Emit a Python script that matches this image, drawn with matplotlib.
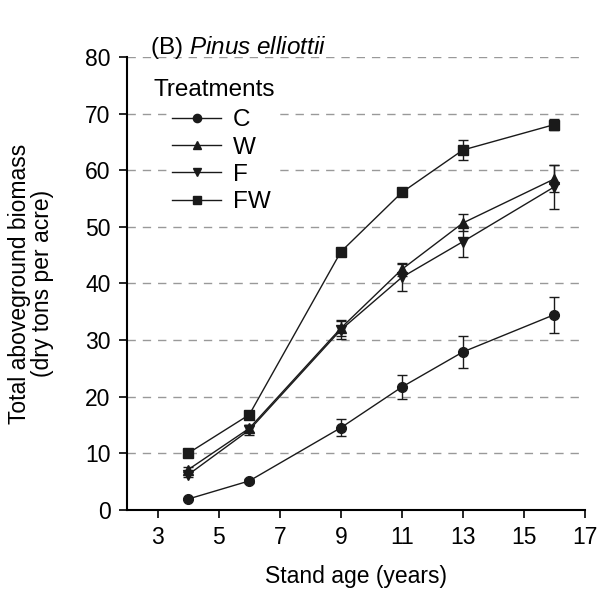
import matplotlib
matplotlib.use("Agg")
import matplotlib.pyplot as plt

plt.rcParams['font.family'] = ['Liberation Sans', 'DejaVu Sans']
plt.rcParams['mathtext.fontset'] = 'custom'
plt.rcParams['mathtext.rm'] = 'Liberation Sans'
plt.rcParams['mathtext.it'] = 'Liberation Sans:italic'

age = [4, 6, 9, 11, 13, 16]
c_vals = [1.9, 5.1, 14.5, 21.7, 27.9, 34.5]
c_err = [0.2, 0.3, 1.5, 2.2, 2.8, 3.2]
w_vals = [7.1, 14.4, 32.1, 42.5, 50.7, 58.5]
w_err = [0.4, 0.6, 1.3, 1.2, 1.5, 2.4]
f_vals = [6.2, 14.1, 31.8, 41.1, 47.4, 57.1]
f_err = [0.4, 0.8, 1.7, 2.4, 2.8, 3.9]
fw_vals = [10.0, 16.8, 45.6, 56.1, 63.6, 68.1]
fw_err = [0.2, 0.5, 0.3, 0.4, 1.7, 1.0]

series = [("C", c_vals, c_err, "o", 7),
          ("W", w_vals, w_err, "^", 7),
          ("F", f_vals, f_err, "v", 7),
          ("FW", fw_vals, fw_err, "s", 6.5)]

fig = plt.figure(figsize=(6, 5.9), dpi=100)
ax = fig.add_axes([0.212, 0.136, 0.763, 0.767])

for lab, v, e, m, ms in series:
    ax.errorbar(age, v, yerr=e, marker=m, ms=ms, color='#1a1a1a', lw=1,
                capsize=3.5, elinewidth=1, capthick=1, label=lab)

ax.set_xlim(2, 17)
ax.set_ylim(0, 80)
ax.set_xticks([3, 5, 7, 9, 11, 13, 15, 17])
ax.set_yticks(range(0, 81, 10))
ax.tick_params(labelsize=16.5, length=6, width=1.2, pad=6)
for y in range(10, 81, 10):
    ax.axhline(y, color='#999999', lw=1, ls=(0, (6, 5)), zorder=0)
ax.spines['top'].set_visible(False)
ax.spines['right'].set_visible(False)
ax.spines['left'].set_linewidth(1.5)
ax.spines['bottom'].set_linewidth(1.5)

ax.set_xlabel("Stand age (years)", fontsize=16.5, labelpad=11)
ax.set_ylabel("Total aboveground biomass\n(dry tons per acre)", fontsize=16.5,
              labelpad=22, linespacing=1.0)
fig.text(0.25, 0.908, r"(B) $\it{Pinus\ elliottii}$", fontsize=17.5)

handles, labels = ax.get_legend_handles_labels()
handles = [h[0] for h in handles]
ax.text(0.057, 0.928, "Treatments", transform=ax.transAxes, fontsize=17.5,
        va='center', ha='left', zorder=5,
        bbox=dict(facecolor='white', edgecolor='none', pad=1))
leg = ax.legend(handles, labels, loc='upper left',
                bbox_to_anchor=(0.064, 0.92), frameon=True, fontsize=17.5,
                handlelength=2.0, labelspacing=0.22,
                borderpad=0.15, handletextpad=0.5, markerscale=0.85)
leg.get_frame().set_edgecolor('none')
leg.get_frame().set_facecolor('white')
leg.get_frame().set_alpha(1)

fig.savefig("out.png", dpi=100)
